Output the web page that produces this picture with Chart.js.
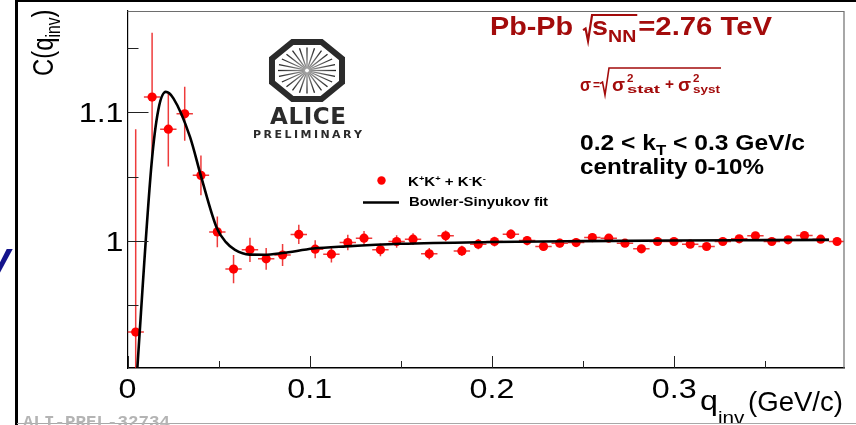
<!DOCTYPE html>
<html>
<head>
<meta charset="utf-8">
<script src="https://cdn.jsdelivr.net/npm/chart.js@4.4.1/dist/chart.umd.min.js"></script>
<style>
  html, body { margin: 0; padding: 0; background: #fff; }
  #wrap { width: 856px; height: 425px; position: relative; overflow: hidden; }
</style>
</head>
<body>
<div id="wrap"><canvas id="cf" width="856" height="425"></canvas></div>
<script>
// bin centres (GeV/c)
const qValues = [
  0.0045, 0.0135, 0.0224, 0.0314, 0.0403, 0.0493, 0.0582, 0.0672, 0.0761, 0.0851,
  0.0940, 0.1030, 0.1119, 0.1209, 0.1298, 0.1388, 0.1477, 0.1567, 0.1656, 0.1746,
  0.1835, 0.1925, 0.2014, 0.2104, 0.2193, 0.2283, 0.2372, 0.2462, 0.2551, 0.2641,
  0.2730, 0.2820, 0.2909, 0.2999, 0.3088, 0.3178, 0.3267, 0.3357, 0.3446, 0.3536,
  0.3625, 0.3715, 0.3804, 0.3894
];
const cValues = [
  0.929, 1.112, 1.087, 1.099, 1.051, 1.007, 0.978, 0.993, 0.986, 0.989,
  1.005, 0.9935, 0.9896, 0.9987, 1.0021, 0.993, 0.9995, 1.0013, 0.9899, 1.0039,
  0.9922, 0.9974, 0.9995, 1.0052, 1.0002, 0.9956, 0.9982, 0.9987, 1.0026, 1.0021,
  0.9982, 0.9938, 0.9995, 0.9995, 0.9974, 0.9956, 0.9995, 1.0016, 1.0039, 0.9995,
  1.0008, 1.0041, 1.0013, 0.9995
];
const cErrors = [
  0.158, 0.05, 0.029, 0.021, 0.0155, 0.012, 0.011, 0.0095, 0.0085, 0.0085,
  0.0075, 0.007, 0.0065, 0.006, 0.0055, 0.005, 0.0048, 0.0046, 0.0045, 0.0042,
  0.004, 0.004, 0.0038, 0.0037, 0.0036, 0.0035, 0.0034, 0.0033, 0.0032, 0.0032,
  0.003, 0.003, 0.003, 0.0028, 0.0028, 0.0027, 0.0026, 0.0026, 0.0025, 0.0025,
  0.0024, 0.0024, 0.0023, 0.0023
];
const qHalfBin = 0.0045;

// Bowler-Sinyukov fit curve
const fitQ = [0.0045, 0.0132, 0.0169, 0.021, 0.0252, 0.0343, 0.0404, 0.049, 0.054, 0.059,
  0.067, 0.075, 0.085, 0.102, 0.12, 0.15, 0.2, 0.25, 0.3, 0.35, 0.385];
const fitC = [0.882, 1.060, 1.102, 1.116, 1.111, 1.081, 1.050, 1.010, 0.999, 0.993,
  0.9893, 0.9892, 0.9905, 0.9940, 0.9957, 0.9977, 0.9991, 0.9998, 1.0003, 1.0006, 1.0008];

const xTickValues = [0, 0.1, 0.2, 0.3];
const xTickLabels = ['0', '0.1', '0.2', '0.3'];
const xMinorTicks = [0.05, 0.15, 0.25, 0.35];
const yTickValues = [1, 1.1];
const yTickLabels = ['1', '1.1'];
const yMinorTicks = [0.95, 1.05, 1.15];

const RED = '#a30b0b';
const SANS = '"Liberation Sans", Arial, sans-serif';
const SX = 1.15; // the picture is a little wider than tall

function txt(ctx, s, x, y, font, color, opt) {
  opt = opt || {};
  ctx.save();
  ctx.font = font;
  ctx.fillStyle = color;
  const w = ctx.measureText(s).width;
  const k = opt.width ? opt.width / w : (opt.sx || SX);
  let x0 = x;
  if (opt.align === 'right') x0 = x - w * k;
  if (opt.align === 'center') x0 = x - w * k / 2;
  ctx.translate(x0, y);
  ctx.scale(k, 1);
  ctx.textAlign = 'left';
  ctx.textBaseline = 'alphabetic';
  ctx.fillText(s, 0, 0);
  ctx.restore();
  return w * k;
}

function spaced(ctx, s, x, y, width, font, color) {
  ctx.save();
  ctx.font = font;
  ctx.fillStyle = color;
  const ws = [...s].map(c => ctx.measureText(c).width);
  const sum = ws.reduce((a, b) => a + b, 0);
  const gap = (width - sum) / (s.length - 1);
  let cx = x;
  [...s].forEach((c, i) => { ctx.fillText(c, cx, y); cx += ws[i] + gap; });
  ctx.restore();
}

function radical(ctx, x, top, bottom, barEnd, lw, color) {
  const h = bottom - top;
  ctx.save();
  ctx.strokeStyle = color;
  ctx.lineWidth = lw;
  ctx.lineJoin = 'miter';
  ctx.beginPath();
  ctx.moveTo(x, top + 0.58 * h);
  ctx.lineTo(x + 2.5, top + 0.52 * h);
  ctx.lineTo(x + 5, bottom);
  ctx.lineTo(x + 9, top);
  ctx.lineTo(barEnd, top);
  ctx.stroke();
  ctx.restore();
}

const overlay = {
  id: 'overlay',
  beforeDatasetsDraw(chart) {
    const { ctx, chartArea: a, scales: { x, y } } = chart;
    ctx.save();
    ctx.beginPath();
    ctx.rect(a.left, a.top, a.right - a.left, a.bottom - a.top);
    ctx.clip();
    ctx.strokeStyle = 'rgba(235,25,25,0.85)';
    ctx.lineWidth = 1.5;
    qValues.forEach((q, i) => {
      const px = x.getPixelForValue(q);
      const py = y.getPixelForValue(cValues[i]);
      ctx.beginPath();
      ctx.moveTo(px, y.getPixelForValue(cValues[i] - cErrors[i]));
      ctx.lineTo(px, y.getPixelForValue(cValues[i] + cErrors[i]));
      ctx.moveTo(x.getPixelForValue(q - qHalfBin), py);
      ctx.lineTo(x.getPixelForValue(q + qHalfBin), py);
      ctx.stroke();
    });
    ctx.restore();
  },
  afterDraw(chart) {
    const { ctx, chartArea: a, scales: { x, y } } = chart;

    // frame top / right
    ctx.save();
    ctx.strokeStyle = '#6e6e6e';
    ctx.lineWidth = 1.2;
    ctx.beginPath();
    ctx.moveTo(a.left, a.top + 0.5);
    ctx.lineTo(a.right, a.top + 0.5);
    ctx.lineTo(a.right, a.bottom);
    ctx.stroke();

    // inward ticks
    ctx.strokeStyle = '#222';
    ctx.lineWidth = 1;
    ctx.beginPath();
    yTickValues.forEach(v => { const p = Math.round(y.getPixelForValue(v)) + 0.5; ctx.moveTo(a.left, p); ctx.lineTo(a.left + 21, p); });
    yMinorTicks.forEach(v => { const p = Math.round(y.getPixelForValue(v)) + 0.5; ctx.moveTo(a.left, p); ctx.lineTo(a.left + 11, p); });
    xTickValues.forEach(v => { const p = Math.round(x.getPixelForValue(v)) + 0.5; ctx.moveTo(p, a.bottom); ctx.lineTo(p, a.bottom - 12); });
    xMinorTicks.forEach(v => { const p = Math.round(x.getPixelForValue(v)) + 0.5; ctx.moveTo(p, a.bottom); ctx.lineTo(p, a.bottom - 7); });
    ctx.stroke();
    ctx.restore();

    // tick labels
    const tickFont = '28px ' + SANS;
    yTickValues.forEach((v, i) => txt(ctx, yTickLabels[i], a.left - 4, y.getPixelForValue(v) + 10, tickFont, '#000', { align: 'right' }));
    xTickValues.forEach((v, i) => txt(ctx, xTickLabels[i], x.getPixelForValue(v), 398, tickFont, '#000', { align: 'center' }));

    // y title C(q_inv), rotated
    ctx.save();
    ctx.translate(53, 76);
    ctx.rotate(-Math.PI / 2);
    ctx.scale(0.92, SX);
    ctx.fillStyle = '#000';
    ctx.font = '26px ' + SANS;
    let tx = 0;
    ctx.fillText('C(q', tx, 0); tx += ctx.measureText('C(q').width;
    ctx.font = '17px ' + SANS;
    ctx.fillText('inv', tx, 6); tx += ctx.measureText('inv').width;
    ctx.font = '26px ' + SANS;
    ctx.fillText(')', tx, 0);
    ctx.restore();

    // x title
    txt(ctx, 'q', 700, 410, '28px ' + SANS, '#000');
    txt(ctx, 'inv', 718, 424, '18px ' + SANS, '#000');
    txt(ctx, '(GeV/c)', 748, 411, '28px ' + SANS, '#000', { width: 95 });

    // Pb-Pb sqrt(sNN) = 2.76 TeV
    const b25 = 'bold 25px ' + SANS, b17 = 'bold 17px ' + SANS;
    let cx = 490;
    cx += txt(ctx, 'Pb-Pb', cx, 35, b25, RED) + 10;
    ctx.font = b25; const ws = ctx.measureText('s').width * SX;
    ctx.font = b17; const wn = ctx.measureText('NN').width * SX;
    const xs = cx + 9;
    const barEnd = xs + ws + wn + 1;
    radical(ctx, cx, 15, 41, barEnd, 2.2, RED);
    txt(ctx, 's', xs, 35, b25, RED);
    txt(ctx, 'NN', xs + ws, 42, b17, RED);
    txt(ctx, '=2.76 TeV', barEnd + 1, 35, b25, RED, { width: 772 - barEnd - 1 });

    // sigma = sqrt(stat^2 + syst^2)
    const s18 = 'bold 18px ' + SANS;
    const b10 = 'bold 11px ' + SANS;
    txt(ctx, 'σ', 580, 91, s18, RED, { width: 11 });
    txt(ctx, '=', 593, 89, 'bold 13px ' + SANS, RED, { width: 7 });
    radical(ctx, 600, 68, 95, 721, 1.6, RED);
    txt(ctx, 'σ', 612, 91, s18, RED, { width: 13 });
    txt(ctx, '2', 627, 82, b10, RED, { sx: 1.05 });
    txt(ctx, 'stat', 627, 93, b10, RED, { width: 33 });
    txt(ctx, '+', 665, 89, 'bold 14px ' + SANS, RED, { width: 9 });
    txt(ctx, 'σ', 678, 91, s18, RED, { width: 13 });
    txt(ctx, '2', 693, 82, b10, RED, { sx: 1.05 });
    txt(ctx, 'syst', 693, 93, b10, RED, { width: 27 });

    // kT and centrality
    const b22 = 'bold 22px ' + SANS;
    ctx.font = b22;
    const w1 = ctx.measureText('0.2 < k').width;
    const w3 = ctx.measureText(' < 0.3 GeV/c').width;
    ctx.font = 'bold 15px ' + SANS;
    const w2 = ctx.measureText('T').width;
    const kk = 225 / (w1 + w2 + w3);
    txt(ctx, '0.2 < k', 580, 150, b22, '#000', { sx: kk });
    txt(ctx, 'T', 580 + w1 * kk, 155, 'bold 15px ' + SANS, '#000', { sx: kk });
    txt(ctx, ' < 0.3 GeV/c', 580 + (w1 + w2) * kk, 150, b22, '#000', { sx: kk });
    txt(ctx, 'centrality 0-10%', 580, 174, b22, '#000', { width: 184 });

    // legend
    ctx.save();
    ctx.fillStyle = '#ff0000';
    ctx.beginPath(); ctx.arc(381.5, 180.5, 4.2, 0, Math.PI * 2); ctx.fill();
    ctx.strokeStyle = '#000'; ctx.lineWidth = 2.5;
    ctx.beginPath(); ctx.moveTo(363, 202.5); ctx.lineTo(399, 202.5); ctx.stroke();
    ctx.restore();
    const b13 = 'bold 13px ' + SANS, b8 = 'bold 8px ' + SANS;
    let lx = 408;
    [['K', 0], ['+', 1], ['K', 0], ['+', 1], [' + ', 0], ['K', 0], ['-', 1], ['K', 0], ['-', 1]].forEach(([s, sup]) => {
      lx += txt(ctx, s, lx, sup ? 181 : 186, sup ? b8 : b13, '#000', { sx: 1.16 });
    });
    txt(ctx, 'Bowler-Sinyukov fit', 409, 206, b13, '#000', { width: 139 });

    // ALICE logo
    const lcx = 307, lcy = 70.5;
    ctx.save();
    ctx.strokeStyle = '#2b2b2b';
    ctx.lineWidth = 6;
    ctx.lineJoin = 'miter';
    ctx.beginPath();
    for (let k = 0; k < 8; k++) {
      const ang = (22.5 + 45 * k) * Math.PI / 180;
      const px = lcx + 37.9 * Math.cos(ang), py = lcy + 30.8 * Math.sin(ang);
      if (k === 0) ctx.moveTo(px, py); else ctx.lineTo(px, py);
    }
    ctx.closePath();
    ctx.stroke();
    ctx.lineWidth = 1.3;
    for (let k = 0; k < 24; k++) {
      const ang = k * 15 * Math.PI / 180;
      const g = ctx.createLinearGradient(lcx, lcy, lcx + 29 * Math.cos(ang), lcy + 23 * Math.sin(ang));
      g.addColorStop(0, '#aaa');
      g.addColorStop(1, '#222');
      ctx.strokeStyle = g;
      ctx.beginPath();
      ctx.moveTo(lcx + 2 * Math.cos(ang), lcy + 2 * Math.sin(ang));
      ctx.lineTo(lcx + 29 * Math.cos(ang), lcy + 23 * Math.sin(ang));
      ctx.stroke();
    }
    ctx.restore();
    spaced(ctx, 'ALICE', 270, 124, 76, 'bold 23px "DejaVu Sans", sans-serif', '#2b2b2b');
    spaced(ctx, 'PRELIMINARY', 253, 138, 109, 'bold 11px "DejaVu Sans", sans-serif', '#2b2b2b');

    // outer slide frame and watermark
    ctx.save();
    ctx.fillStyle = '#000';
    ctx.fillRect(15, 0, 3, 425);
    ctx.fillRect(15, 0, 841, 2);
    ctx.fillStyle = '#a8a8a8';
    ctx.fillRect(17, 423, 839, 1);
    ctx.restore();
    txt(ctx, 'ALI-PREL-32734', 23, 427, 'bold 17px "Liberation Mono", monospace', '#b4b4b4', { width: 147 });
    txt(ctx, 'V', 10, 277, 'italic bold 40px ' + SANS, '#14148c', { align: 'right', sx: 1 });
  }
};

const ctx = document.getElementById('cf').getContext('2d');
new Chart(ctx, {
  type: 'scatter',
  data: {
    datasets: [
      {
        label: 'Bowler-Sinyukov fit',
        data: fitQ.map((q, i) => ({ x: q, y: fitC[i] })),
        showLine: true,
        borderColor: '#000',
        borderWidth: 2.6,
        pointRadius: 0,
        cubicInterpolationMode: 'monotone'
      },
      {
        label: 'K+K+ + K-K-',
        data: qValues.map((q, i) => ({ x: q, y: cValues[i] })),
        backgroundColor: '#ff0000',
        borderWidth: 0,
        pointRadius: 4.6
      }
    ]
  },
  options: {
    responsive: false,
    animation: false,
    layout: { padding: { left: 0, right: 12, top: 11, bottom: 0 } },
    plugins: { legend: { display: false }, tooltip: { enabled: false } },
    scales: {
      x: {
        type: 'linear',
        min: 0,
        max: 0.3932,
        afterFit: s => { s.height = 57; },
        afterBuildTicks: s => { s.ticks = xTickValues.map(v => ({ value: v })); },
        ticks: { display: false },
        grid: { display: false },
        border: { display: true, color: '#000', width: 1.5 }
      },
      y: {
        min: 0.901,
        max: 1.179,
        afterFit: s => { s.width = 127.5; },
        afterBuildTicks: s => { s.ticks = yTickValues.map(v => ({ value: v })); },
        ticks: { display: false },
        grid: { display: false },
        border: { display: true, color: '#000', width: 1.2 }
      }
    }
  },
  plugins: [overlay]
});
</script>
</body>
</html>
